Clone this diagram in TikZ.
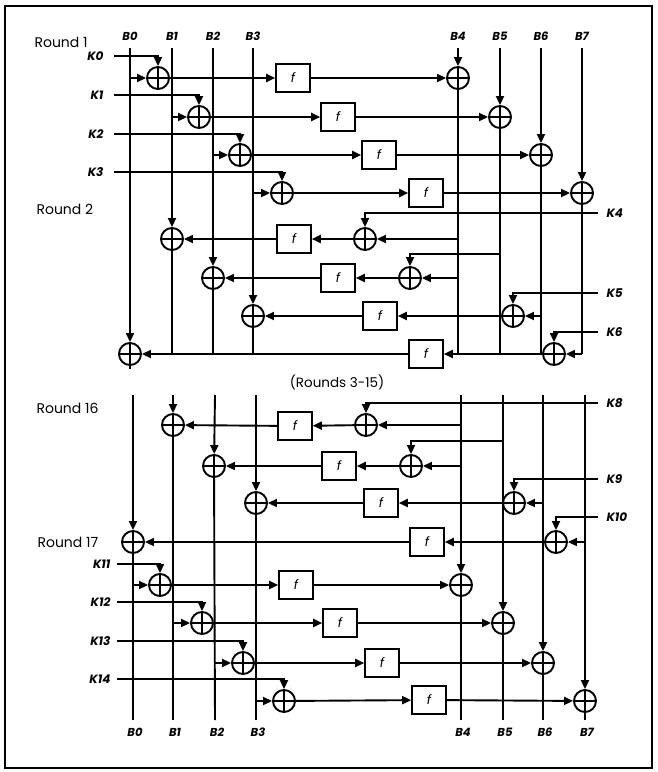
\documentclass[tikz,border=0pt]{standalone}
\usepackage{fontspec}
\setmainfont{Poppins}
\usetikzlibrary{arrows.meta}
\tikzset{
  ln/.style={line width=1.9pt},
  arr/.style={ln,-{Triangle[length=9pt,width=8pt]}},
  xor/.style={circle,draw,line width=1.9pt,minimum size=22pt,inner sep=0pt,
    path picture={\draw[line width=1.9pt] (path picture bounding box.north) -- (path picture bounding box.south)
      (path picture bounding box.west) -- (path picture bounding box.east);}},
  fbox/.style={draw,line width=1.6pt,minimum width=34pt,minimum height=28pt,inner sep=0pt,
    font=\itshape\fontsize{13}{13}\selectfont},
  blab/.style={font=\bfseries\itshape\fontsize{11.5}{11.5}\selectfont},
  klab/.style={font=\bfseries\itshape\fontsize{12}{12}\selectfont},
  klabl/.style={klab,anchor=east},
  klabr/.style={klab,anchor=west},
  rlab/.style={font=\fontsize{14}{14}\selectfont,anchor=west},
}
\begin{document}
\begin{tikzpicture}[x=1pt,y=-1pt]
\useasboundingbox (0,0) rectangle (658,772);
\draw[line width=2pt] (5,6) rectangle (652,768);

% ---------- labels ----------
\node[rlab] (R1) at (31,42) {Round 1};
\node[rlab] (R2) at (33,209) {Round 2};
\node[rlab] (R16) at (33,408) {Round 16};
\node[rlab] (R17) at (34,542) {Round 17};
\node[font=\fontsize{13.5}{13.5}\selectfont] (mid) at (337,382) {(Rounds 3-15)};

% top column labels and starts
\foreach \i/\x in {0/130,1/172,2/213,3/253,4/458,5/500,6/541,7/582}{
  \node[blab] (tb\i) at (\x,36) {B\i};
  \coordinate (T\i) at (\x,48);
}
% bottom column starts, ends, labels
\foreach \i/\x in {0/133,1/173,2/215,3/256,4/461,5/503,6/543,7/585}{
  \coordinate (S\i) at (\x,395);
  \coordinate (E\i) at (\x,720);
  \node[blab] (bb\i) at (\x+2,732) {B\i};
}

% ---------- Round 1 ----------
\node[xor] (a1) at (158,78) {};
\node[xor] (a2) at (199,117) {};
\node[xor] (a3) at (240,155) {};
\node[xor] (a4) at (282,193) {};
\node[fbox] (fa1) at (293,78) {f};
\node[fbox] (fa2) at (338,117) {f};
\node[fbox] (fa3) at (379,155) {f};
\node[fbox] (fa4) at (426,193) {f};
\node[xor] (r1) at (458,78) {};
\node[xor] (r2) at (500,117) {};
\node[xor] (r3) at (541,155) {};
\node[xor] (r4) at (582,193) {};
\coordinate (k0) at (114,56);  \node[klabl] (K0) at (107,56) {K0};
\coordinate (k1) at (114,95);  \node[klabl] (K1) at (107,95) {K1};
\coordinate (k2) at (114,134); \node[klabl] (K2) at (107,134) {K2};
\coordinate (k3) at (114,172); \node[klabl] (K3) at (107,172) {K3};

% ---------- Round 2 ----------
\node[xor] (b1) at (365,239) {};
\node[xor] (b2) at (410,278) {};
\node[xor] (b3) at (513,316) {};
\node[xor] (b4) at (554,354) {};
\node[fbox] (fb1) at (294,239) {f};
\node[fbox] (fb2) at (338,278) {f};
\node[fbox] (fb3) at (380,316) {f};
\node[fbox] (fb4) at (426,354) {f};
\node[xor] (l1) at (172,239) {};
\node[xor] (l2) at (213,278) {};
\node[xor] (l3) at (253,316) {};
\node[xor] (l0) at (130,354) {};
\coordinate (k4) at (598,213); \node[klabr] (K4) at (603,213) {K4};
\coordinate (c5) at (500,254);
\coordinate (k5) at (598,293); \node[klabr] (K5) at (603,293) {K5};
\coordinate (k6) at (598,332); \node[klabr] (K6) at (603,332) {K6};
\coordinate (e0) at (130,369);

% round 1 connectors
\foreach \a/\f/\r/\k/\t in {a1/fa1/r1/k0/T0,a2/fa2/r2/k1/T1,a3/fa3/r3/k2/T2,a4/fa4/r4/k3/T3}{
  \draw[arr] (\k) -- (\k -| \a) -- (\a);
  \draw[arr] (\a -| \t) -- (\a);
  \draw[arr] (\a) -- (\f);
  \draw[arr] (\f) -- (\r);
}
% round 2 connectors
\draw[arr] (k4) -- (k4 -| b1) -- (b1);
\draw[arr] (c5) -- (c5 -| b2) -- (b2);
\draw[arr] (k5) -- (k5 -| b3) -- (b3);
\draw[arr] (k6) -- (k6 -| b4) -- (b4);
\draw[arr] (b1 -| T4) -- (b1);
\draw[arr] (b2 -| T4) -- (b2);
\draw[arr] (b3 -| T6) -- (b3);
\draw[arr] (b4 -| T7) -- (b4);
\foreach \b/\f/\l in {b1/fb1/l1,b2/fb2/l2,b3/fb3/l3,b4/fb4/l0}{
  \draw[arr] (\b) -- (\f);
  \draw[arr] (\f) -- (\l);
}
% top columns
\draw[arr] (T0) -- (l0);  \draw[ln] (l0) -- (e0);
\draw[arr] (T1) -- (l1);  \draw[ln] (l1) -- (l1 |- l0);
\draw[arr] (T2) -- (l2);  \draw[ln] (l2) -- (l2 |- l0);
\draw[arr] (T3) -- (l3);  \draw[ln] (l3) -- (l3 |- l0);
\draw[arr] (T4) -- (r1);  \draw[ln] (r1) -- (r1 |- b4);
\draw[arr] (T5) -- (r2);  \draw[ln] (r2) -- (r2 |- b4);
\draw[arr] (T6) -- (r3);  \draw[ln] (r3) -- (r3 |- b4);
\draw[arr] (T7) -- (r4);  \draw[ln] (r4) -- (r4 |- b4);

% ---------- Round 16 ----------
\node[xor] (m1) at (173,425) {};
\node[xor] (m2) at (214,466) {};
\node[xor] (m3) at (256,503) {};
\node[xor] (m0) at (133,542) {};
\node[xor] (c1) at (366,425) {};
\node[xor] (c2) at (411,466) {};
\node[xor] (c3) at (514,503) {};
\node[xor] (c4) at (556,542) {};
\node[fbox] (fc1) at (295,426) {f};
\node[fbox] (fc2) at (339,466) {f};
\node[fbox] (fc3) at (381,503) {f};
\node[fbox] (fc4) at (427,542) {f};
\coordinate (k8) at (598,403);  \node[klabr] (K8) at (603,403) {K8};
\coordinate (c6) at (503,441);
\coordinate (k9) at (598,479);  \node[klabr] (K9) at (603,479) {K9};
\coordinate (k10) at (598,517); \node[klabr] (K10) at (603,517) {K10};
\draw[arr] (k8) -- (k8 -| c1) -- (c1);
\draw[arr] (c6) -- (c6 -| c2) -- (c2);
\draw[arr] (k9) -- (k9 -| c3) -- (c3);
\draw[arr] (k10) -- (k10 -| c4) -- (c4);
\draw[arr] (c1 -| S4) -- (c1);
\draw[arr] (c2 -| S4) -- (c2);
\draw[arr] (c3 -| S6) -- (c3);
\draw[arr] (c4 -| S7) -- (c4);
\foreach \b/\f/\l in {c1/fc1/m1,c2/fc2/m2,c3/fc3/m3,c4/fc4/m0}{
  \draw[arr] (\b) -- (\f);
  \draw[arr] (\f) -- (\l);
}

% ---------- Round 17 ----------
\node[xor] (d1) at (160,585) {};
\node[xor] (d2) at (202,623) {};
\node[xor] (d3) at (243,663) {};
\node[xor] (d4) at (284,701) {};
\node[fbox] (fd1) at (296,585) {f};
\node[fbox] (fd2) at (340,623) {f};
\node[fbox] (fd3) at (382,663) {f};
\node[fbox] (fd4) at (429,700) {f};
\node[xor] (q1) at (461,585) {};
\node[xor] (q2) at (503,623) {};
\node[xor] (q3) at (543,663) {};
\node[xor] (q4) at (585,701) {};
\coordinate (k11) at (117,564); \node[klabl] (K11) at (114,564) {K11};
\coordinate (k12) at (117,602); \node[klabl] (K12) at (114,602) {K12};
\coordinate (k13) at (117,641); \node[klabl] (K13) at (114,641) {K13};
\coordinate (k14) at (117,679); \node[klabl] (K14) at (114,679) {K14};
\foreach \a/\f/\r/\k/\t in {d1/fd1/q1/k11/S0,d2/fd2/q2/k12/S1,d3/fd3/q3/k13/S2,d4/fd4/q4/k14/S3}{
  \draw[arr] (\k) -- (\k -| \a) -- (\a);
  \draw[arr] (\a -| \t) -- (\a);
  \draw[arr] (\a) -- (\f);
  \draw[arr] (\f) -- (\r);
}
% bottom columns
\draw[arr] (S0) -- (m0);  \draw[ln] (m0) -- (E0);
\draw[arr] (S1) -- (m1);  \draw[ln] (m1) -- (E1);
\draw[arr] (S2) -- (m2);  \draw[ln] (m2) -- (E2);
\draw[arr] (S3) -- (m3);  \draw[ln] (m3) -- (E3);
\draw[arr] (S4) -- (q1);  \draw[ln] (q1) -- (E4);
\draw[arr] (S5) -- (q2);  \draw[ln] (q2) -- (E5);
\draw[arr] (S6) -- (q3);  \draw[ln] (q3) -- (E6);
\draw[arr] (S7) -- (q4);  \draw[ln] (q4) -- (E7);
\end{tikzpicture}
\end{document}
